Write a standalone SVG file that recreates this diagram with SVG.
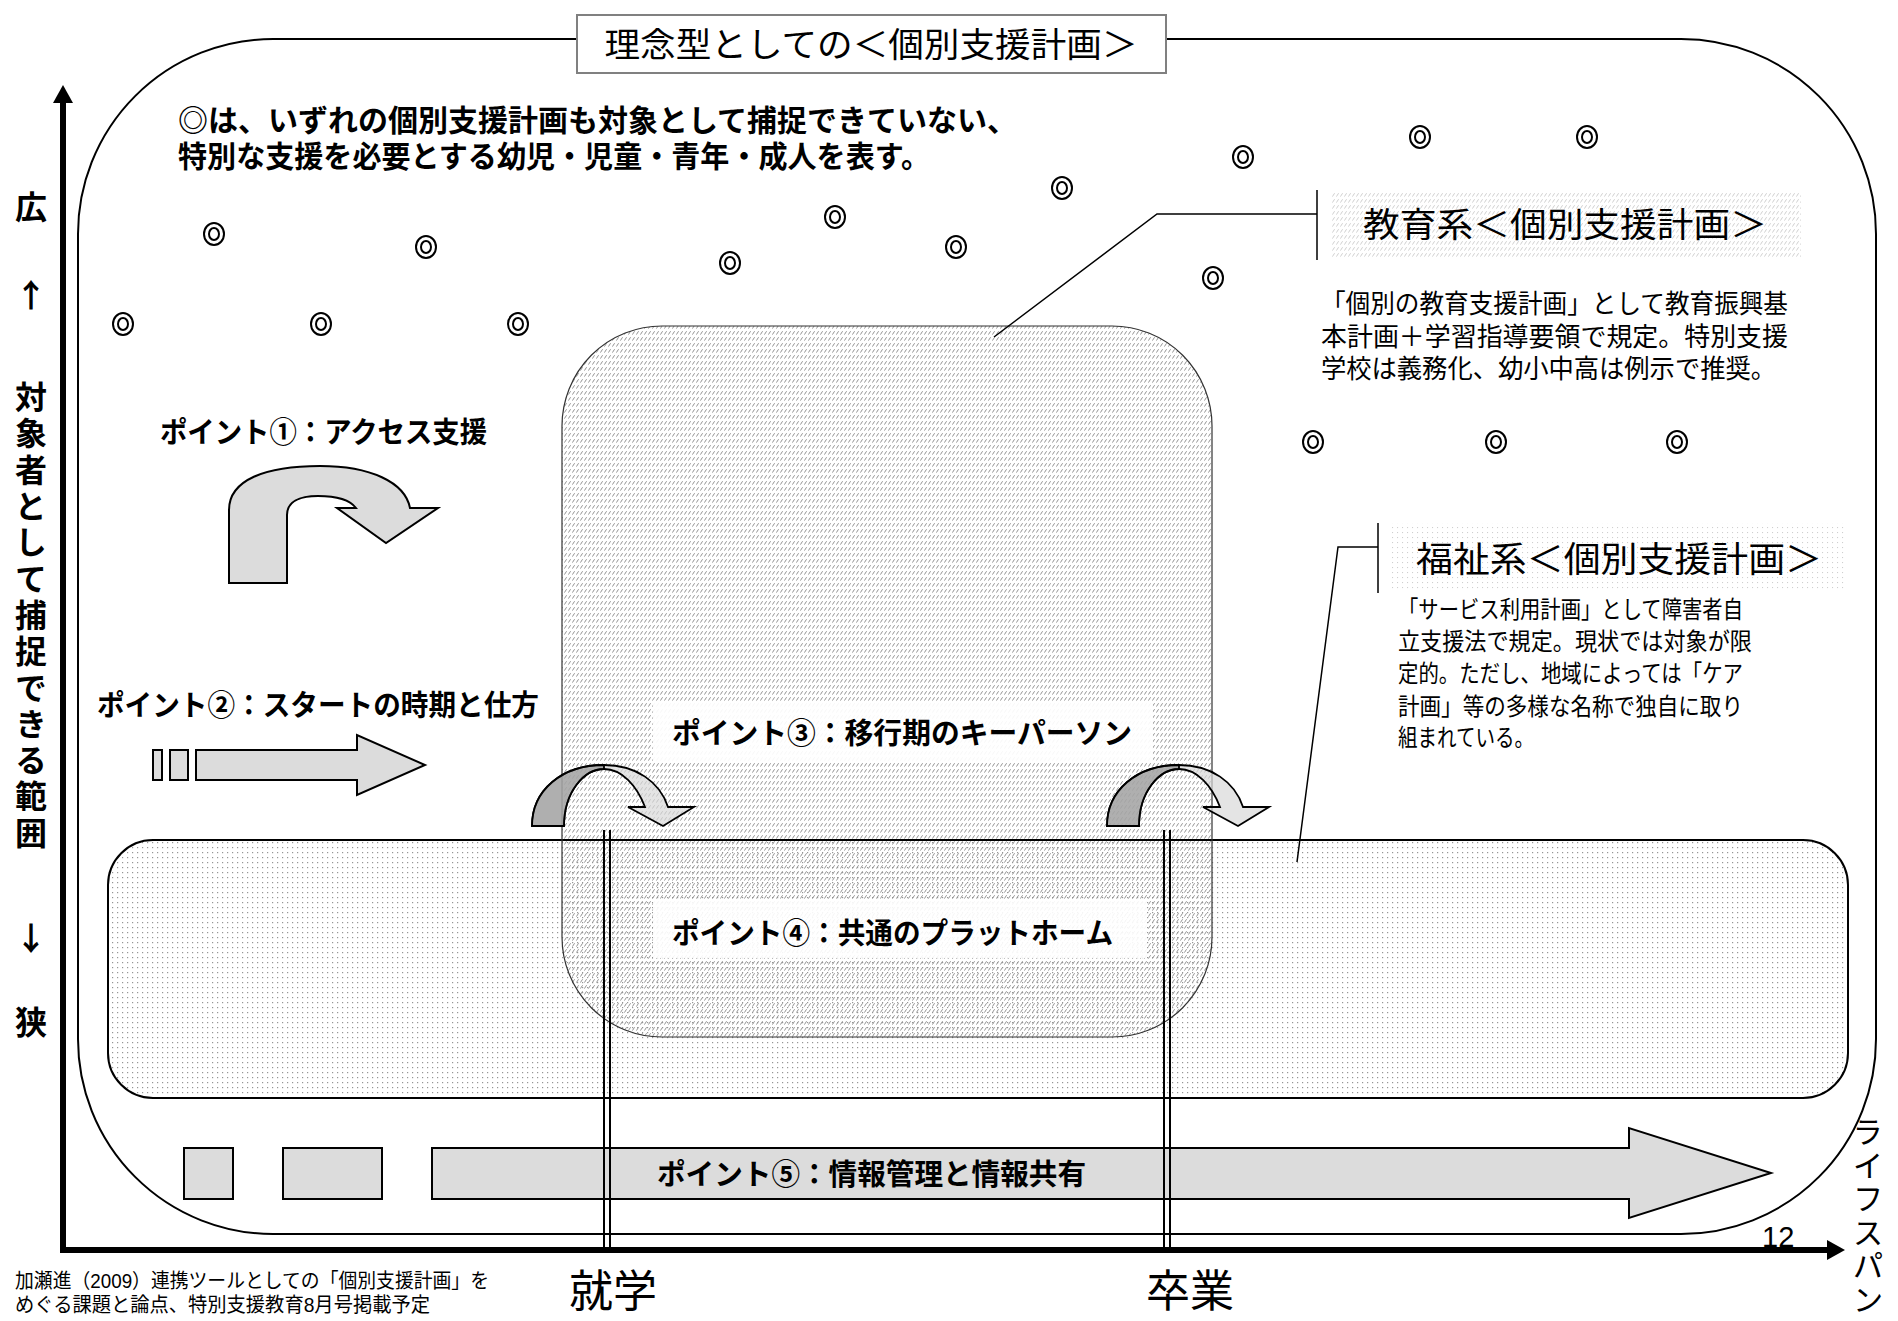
<svg xmlns="http://www.w3.org/2000/svg" width="1898" height="1321" viewBox="0 0 1898 1321">
<defs>
<style>
.b{font-family:"Liberation Sans","Noto Sans CJK JP","Noto Sans CJK SC",sans-serif;font-weight:bold;fill:#000}
.r{font-family:"Liberation Sans","Noto Sans CJK JP","Noto Sans CJK SC",sans-serif;font-weight:normal;fill:#000}
.nb{font-family:"Noto Sans CJK JP","Noto Sans CJK SC",sans-serif;font-weight:bold;fill:#000}
.vb{font-family:"Noto Sans CJK JP","Noto Sans CJK SC",sans-serif;font-weight:bold;fill:#000;writing-mode:vertical-rl}
.vr{font-family:"Noto Sans CJK JP","Noto Sans CJK SC",sans-serif;font-weight:normal;fill:#000;writing-mode:vertical-rl}
.c{dominant-baseline:central}
.m{text-anchor:middle}
.gf{fill:#dcdcdc;stroke:#000;stroke-width:2}
.cl{fill:none;stroke:#000;stroke-width:1.5}
.ca-l{fill:#d9d9d9;fill-opacity:0.7;stroke:#000;stroke-width:1.8}
.ca-d{fill:#8c8c8c;fill-opacity:0.6;stroke:#000;stroke-width:1.8}
</style>
<pattern id="hatch" width="4" height="6" patternUnits="userSpaceOnUse"><path d="M0.4,4.6 L2.6,1.2" stroke="#888" stroke-width="0.9"/></pattern>
<pattern id="hatchL" width="4" height="6" patternUnits="userSpaceOnUse"><path d="M0.4,4.6 L2.6,1.2" stroke="#c4c4c4" stroke-width="0.8"/></pattern>
<pattern id="dots" width="5" height="5" patternUnits="userSpaceOnUse"><rect x="2" y="2" width="1.2" height="1.2" fill="#959595"/></pattern>
<pattern id="dotsL" width="5" height="5" patternUnits="userSpaceOnUse"><rect x="2" y="2" width="1.1" height="1.1" fill="#cfcfcf"/></pattern>
<marker id="ah" viewBox="0 0 18 20" refX="1" refY="10" markerWidth="18" markerHeight="20" markerUnits="userSpaceOnUse" orient="auto"><path d="M0,0 L18,10 L0,20 Z" fill="#000"/></marker>
<g id="mk"><ellipse rx="10" ry="11" fill="none" stroke="#000" stroke-width="2"/><ellipse rx="5" ry="6" fill="none" stroke="#000" stroke-width="2"/></g>
<path id="curved-arrow" d="M532,826 C532,790 562,765 604,765 C636,765 660,782 668,807 L694,807 L663,826 L628,807 L645,807 C637,786 622,769 604,769 C584,769 564,792 564,826 Z"/>
<path id="curved-back" d="M532,826 C532,790 562,765 604,765 L604,769 C584,769 564,792 564,826 Z"/>
</defs>
<rect width="1898" height="1321" fill="#fff"/>

<g id="ideal-frame">
<rect x="78" y="39" width="1798" height="1195" rx="195" ry="195" fill="none" stroke="#000" stroke-width="2"/>
</g>

<g id="education-plan-area">
<rect x="562" y="326" width="650" height="711" rx="100" ry="100" fill="#fff"/>
<rect x="562" y="326" width="650" height="711" rx="100" ry="100" fill="url(#hatch)"/>
</g>

<g id="common-platform">
<rect x="108" y="840" width="1740" height="258" rx="45" ry="45" fill="url(#dots)" stroke="#000" stroke-width="2"/>
</g>
<rect id="education-plan-outline" x="562" y="326" width="650" height="711" rx="100" ry="100" fill="none" stroke="#333" stroke-width="1.2"/>

<g id="title">
<rect x="577" y="15" width="589" height="58" fill="#fff" stroke="#808080" stroke-width="2"/>
<text class="r c m" x="871" y="45" font-size="34" textLength="533" lengthAdjust="spacingAndGlyphs">理念型としての＜個別支援計画＞</text>
</g>

<g id="note">
<text class="b c" x="178" y="120" font-size="30" textLength="839" lengthAdjust="spacingAndGlyphs">◎は、いずれの個別支援計画も対象として捕捉できていない、</text>
<text class="b c" x="178" y="156" font-size="30" textLength="752" lengthAdjust="spacingAndGlyphs">特別な支援を必要とする幼児・児童・青年・成人を表す。</text>
</g>

<g id="marks">
<use href="#mk" x="214" y="234"/>
<use href="#mk" x="426" y="247"/>
<use href="#mk" x="730" y="263"/>
<use href="#mk" x="835" y="217"/>
<use href="#mk" x="956" y="247"/>
<use href="#mk" x="1062" y="188"/>
<use href="#mk" x="1243" y="157"/>
<use href="#mk" x="1420" y="137"/>
<use href="#mk" x="1587" y="137"/>
<use href="#mk" x="1213" y="278"/>
<use href="#mk" x="123" y="324"/>
<use href="#mk" x="321" y="324"/>
<use href="#mk" x="518" y="324"/>
<use href="#mk" x="1313" y="442"/>
<use href="#mk" x="1496" y="442"/>
<use href="#mk" x="1677" y="442"/>
</g>

<g id="education-label">
<rect x="1331" y="191" width="470" height="67" fill="url(#hatchL)"/>
<text class="r c m" x="1565" y="225" font-size="34" textLength="404" lengthAdjust="spacingAndGlyphs">教育系＜個別支援計画＞</text>
<text class="r c" x="1321" y="304" font-size="26" textLength="467" lengthAdjust="spacingAndGlyphs">「個別の教育支援計画」として教育振興基</text>
<text class="r c" x="1321" y="337" font-size="26" textLength="467" lengthAdjust="spacingAndGlyphs">本計画＋学習指導要領で規定。特別支援</text>
<text class="r c" x="1321" y="369" font-size="26" textLength="455" lengthAdjust="spacingAndGlyphs">学校は義務化、幼小中高は例示で推奨。</text>
</g>

<g id="welfare-label">
<rect x="1391" y="523" width="456" height="69" fill="url(#dotsL)"/>
<text class="r c m" x="1619" y="559" font-size="35" textLength="406" lengthAdjust="spacingAndGlyphs">福祉系＜個別支援計画＞</text>
<text class="r c" x="1398" y="609" font-size="24" textLength="345" lengthAdjust="spacingAndGlyphs">「サービス利用計画」として障害者自</text>
<text class="r c" x="1398" y="641" font-size="24" textLength="354" lengthAdjust="spacingAndGlyphs">立支援法で規定。現状では対象が限</text>
<text class="r c" x="1398" y="673" font-size="24" textLength="345" lengthAdjust="spacingAndGlyphs">定的。ただし、地域によっては「ケア</text>
<text class="r c" x="1398" y="706" font-size="24" textLength="345" lengthAdjust="spacingAndGlyphs">計画」等の多様な名称で独自に取り</text>
<text class="r c" x="1398" y="737" font-size="24" textLength="136" lengthAdjust="spacingAndGlyphs">組まれている。</text>
</g>

<g id="point1">
<text class="b c" x="160" y="433" font-size="29" textLength="327" lengthAdjust="spacingAndGlyphs">ポイント①：アクセス支援</text>
<path class="gf" d="M229,583 L229,510 C229,480 265,466 320,466 C370,466 405,482 410,508 L438,508 L386,543 L337,508 L356,508 C350,500 337,496 318,496 C299,496 287,502 287,515 L287,583 Z"/>
</g>

<g id="point2">
<text class="b c" x="97" y="706" font-size="29" textLength="442" lengthAdjust="spacingAndGlyphs">ポイント②：スタートの時期と仕方</text>
<rect class="gf" x="153" y="750" width="9" height="30"/>
<rect class="gf" x="170" y="750" width="18" height="30"/>
<path class="gf" d="M196,750 L357,750 L357,735 L425,765 L357,795 L357,780 L196,780 Z"/>
</g>

<g id="point3">
<rect x="653" y="703" width="500" height="60" fill="#fff" fill-opacity="0.92"/>
<text class="b c" x="672" y="734" font-size="29" textLength="460" lengthAdjust="spacingAndGlyphs">ポイント③：移行期のキーパーソン</text>
<g id="transition-arrow-1">
<use href="#curved-arrow" class="ca-l"/>
<use href="#curved-back" class="ca-d"/>
</g>
<g id="transition-arrow-2" transform="translate(575,0)">
<use href="#curved-arrow" class="ca-l"/>
<use href="#curved-back" class="ca-d"/>
</g>
</g>

<g id="point4">
<rect x="653" y="900" width="494" height="58" fill="#fff" fill-opacity="0.9"/>
<text class="b c" x="672" y="934" font-size="29" textLength="441" lengthAdjust="spacingAndGlyphs">ポイント④：共通のプラットホーム</text>
</g>

<g id="point5">
<rect class="gf" x="184" y="1148" width="49" height="51"/>
<rect class="gf" x="283" y="1148" width="99" height="51"/>
<path class="gf" d="M432,1148 L1629,1148 L1629,1128 L1771,1173 L1629,1218 L1629,1199 L432,1199 Z"/>
<text class="b c" x="657" y="1175" font-size="29" textLength="429" lengthAdjust="spacingAndGlyphs">ポイント⑤：情報管理と情報共有</text>
</g>

<g id="connectors">
<path class="cl" d="M1317,190 L1317,260 M1317,214 L1157,214 L994,337"/>
<path class="cl" d="M1378,523 L1378,593 M1378,547 L1338,547 L1297,862"/>
<path fill="none" stroke="#000" stroke-width="2" d="M604,830 L604,1250 M610,830 L610,1250 M1164,830 L1164,1250 M1170,830 L1170,1250"/>
</g>

<g id="axes">
<line x1="63" y1="1253" x2="63" y2="102" stroke="#000" stroke-width="6" marker-end="url(#ah)"/>
<line x1="60" y1="1250" x2="1828" y2="1250" stroke="#000" stroke-width="6" marker-end="url(#ah)"/>
<text class="vb" x="31" y="191" font-size="32">広</text>
<text class="nb c m" x="31" y="293" font-size="32">↑</text>
<text class="vb" x="31" y="381" font-size="32" letter-spacing="4.3">対象者として捕捉できる範囲</text>
<text class="nb c m" x="31" y="936" font-size="32">↓</text>
<text class="vb" x="31" y="1006" font-size="32">狭</text>
<text class="vr" x="1868" y="1116" font-size="31" letter-spacing="2.5">ライフスパン</text>
<text x="1762" y="1247" font-family="Liberation Sans, Arial, sans-serif" font-size="29">12</text>
<text class="r m" x="613" y="1307" font-size="44">就学</text>
<text class="r m" x="1190" y="1307" font-size="44">卒業</text>
</g>

<g id="citation">
<text class="r c" x="15" y="1281" font-size="20" textLength="474" lengthAdjust="spacingAndGlyphs">加瀬進（2009）連携ツールとしての「個別支援計画」を</text>
<text class="r c" x="15" y="1305" font-size="20" textLength="415" lengthAdjust="spacingAndGlyphs">めぐる課題と論点、特別支援教育8月号掲載予定</text>
</g>
</svg>
